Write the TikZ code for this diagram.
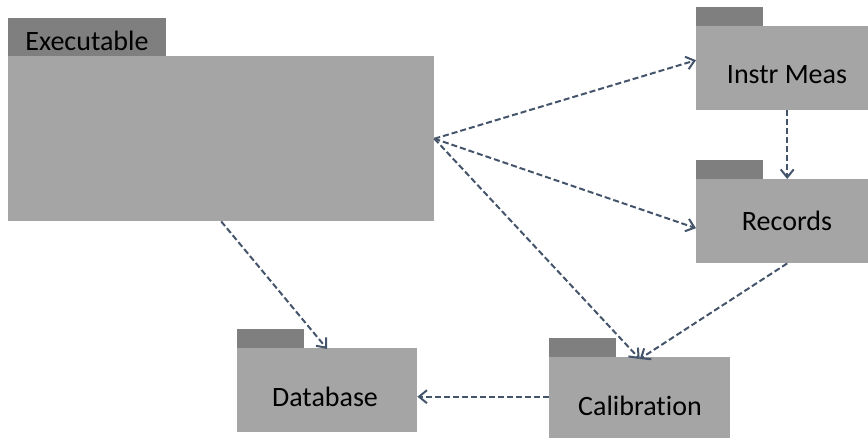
\documentclass[tikz,border=0pt]{standalone}
\usepackage{fontspec}
\setmainfont[Ligatures={NoCommon}]{Carlito}
\usetikzlibrary{arrows.meta}
\definecolor{pkgbody}{HTML}{A5A5A5}
\definecolor{pkgtab}{HTML}{7F7F7F}
\definecolor{dep}{HTML}{44546A}
\begin{document}
\begin{tikzpicture}[x=1pt,y=-1pt,
  body/.style={fill=pkgbody,draw=none,inner sep=0pt,anchor=north west},
  tab/.style={fill=pkgtab,draw=none,inner sep=0pt,anchor=south west,minimum width=67pt,minimum height=19pt},
  lbl/.style={inner sep=0pt,anchor=base,font=\fontsize{28}{34}\selectfont},
  depend/.style={draw=dep,line width=2pt,dash pattern=on 6pt off 3pt,
    -{Straight Barb[length=8pt,width=13pt,line width=2pt]}}]
\useasboundingbox (0,0) rectangle (868,439);

% package bodies and tabs
\node[body,minimum width=426pt,minimum height=165pt] (exec) at (8,56) {};
\node[tab,minimum width=158pt,minimum height=38pt] (exectab) at (exec.north west) {};
\node[body,minimum width=172pt,minimum height=84pt] (instr) at (696,26) {};
\node[tab] (instrtab) at (instr.north west) {};
\node[body,minimum width=172pt,minimum height=84pt] (rec) at (696,179) {};
\node[tab] (rectab) at (rec.north west) {};
\node[body,minimum width=180pt,minimum height=84pt] (db) at (237,348) {};
\node[tab] (dbtab) at (db.north west) {};
\node[body,minimum width=181pt,minimum height=81pt] (cal) at (549,357) {};
\node[tab] (caltab) at (cal.north west) {};

% labels
\node[lbl] (exectxt) at (87,50) {Executable};
\node[lbl] (instrtxt) at (787,83) {Instr Meas};
\node[lbl] (rectxt) at (787,230) {Records};
\node[lbl] (dbtxt) at (325,406) {Database};
\node[lbl] (caltxt) at (640,415) {Calibration};

% dependencies
\draw[depend] (exec.east) -- ([yshift=8pt]instr.west);
\draw[depend] (exec.east) -- ([yshift=-7pt]rec.west);
\draw[depend] (exec.east) -- ([yshift=-2pt]cal.north);
\draw[depend] (exec.south) -- ([yshift=-1pt]db.north);
\draw[depend] ([xshift=5pt]instr.south) -- ([xshift=5pt]rec.north);
\draw[depend] ([xshift=5pt]rec.south) -- ([yshift=-2pt]cal.north);
\draw[depend] ([yshift=1pt]cal.west) -- ([yshift=1pt]cal.west -| db.east);
\end{tikzpicture}
\end{document}
